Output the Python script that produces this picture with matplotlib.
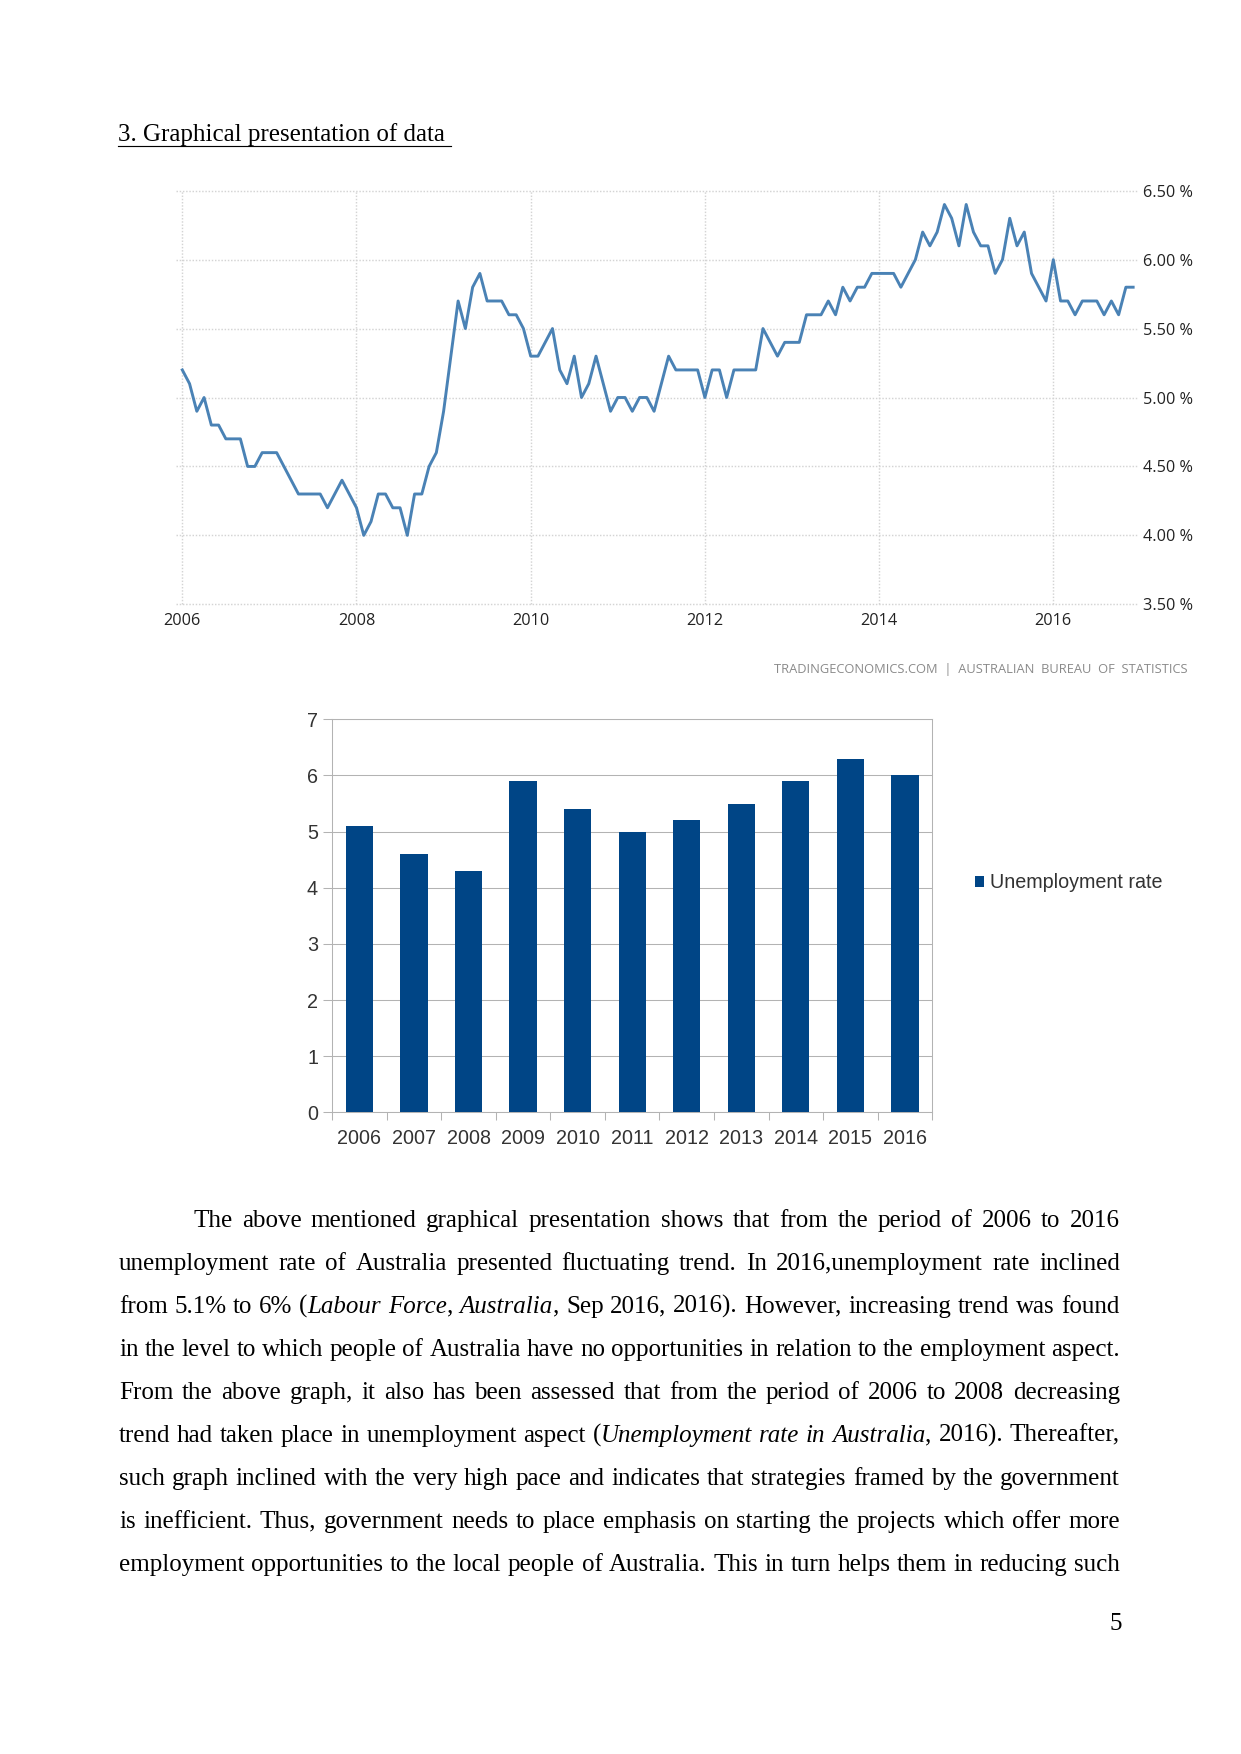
import numpy as np
import matplotlib
matplotlib.use("Agg")
import matplotlib.pyplot as plt

W, H = 1241, 1754
DPI = 150

# monthly unemployment rate (%), Jan 2006 onwards
monthly_rate = [
    5.2, 5.1, 4.9, 5.0, 4.8, 4.8, 4.7, 4.7, 4.7, 4.5, 4.5, 4.6,  # 2006
    4.6, 4.6, 4.5, 4.4, 4.3, 4.3, 4.3, 4.3, 4.2, 4.3, 4.4, 4.3,  # 2007
    4.2, 4.0, 4.1, 4.3, 4.3, 4.2, 4.2, 4.0, 4.3, 4.3, 4.5, 4.6,  # 2008
    4.9, 5.3, 5.7, 5.5, 5.8, 5.9, 5.7, 5.7, 5.7, 5.6, 5.6, 5.5,  # 2009
    5.3, 5.3, 5.4, 5.5, 5.2, 5.1, 5.3, 5.0, 5.1, 5.3, 5.1, 4.9,  # 2010
    5.0, 5.0, 4.9, 5.0, 5.0, 4.9, 5.1, 5.3, 5.2, 5.2, 5.2, 5.2,  # 2011
    5.0, 5.2, 5.2, 5.0, 5.2, 5.2, 5.2, 5.2, 5.5, 5.4, 5.3, 5.4,  # 2012
    5.4, 5.4, 5.6, 5.6, 5.6, 5.7, 5.6, 5.8, 5.7, 5.8, 5.8, 5.9,  # 2013
    5.9, 5.9, 5.9, 5.8, 5.9, 6.0, 6.2, 6.1, 6.2, 6.4, 6.3, 6.1,  # 2014
    6.4, 6.2, 6.1, 6.1, 5.9, 6.0, 6.3, 6.1, 6.2, 5.9, 5.8, 5.7,  # 2015
    6.0, 5.7, 5.7, 5.6, 5.7, 5.7, 5.7, 5.6, 5.7, 5.6, 5.8, 5.8,  # 2016
]
start_year = 2006
line_xticks = [2006, 2008, 2010, 2012, 2014, 2016]
line_yticks = [3.5, 4.0, 4.5, 5.0, 5.5, 6.0, 6.5]
source_text = "TRADINGECONOMICS.COM  |  AUSTRALIAN  BUREAU  OF  STATISTICS"

bar_years = ["2006", "2007", "2008", "2009", "2010", "2011",
             "2012", "2013", "2014", "2015", "2016"]
bar_rates = [5.1, 4.6, 4.3, 5.9, 5.4, 5.0, 5.2, 5.5, 5.9, 6.3, 6.0]
bar_label = "Unemployment rate"

heading = "3. Graphical presentation of data"
page_number = "5"
# *...* marks italic runs
paragraph = [
    "The above mentioned graphical presentation shows that from the period of 2006 to 2016",
    "unemployment rate of Australia presented fluctuating trend. In 2016,unemployment rate inclined",
    "from 5.1% to 6% (*Labour Force*, *Australia*, Sep 2016, 2016). However, increasing trend was found",
    "in the level to which people of Australia have no opportunities in relation to the employment aspect.",
    "From the above graph, it also has been assessed that from the period of 2006 to 2008 decreasing",
    "trend had taken place in unemployment aspect (*Unemployment rate in Australia*, 2016). Thereafter,",
    "such graph inclined with the very high pace and indicates that strategies framed by the government",
    "is inefficient. Thus, government needs to place emphasis on starting the projects which offer more",
    "employment opportunities to the local people of Australia. This in turn helps them in reducing such",
]


def px_axes(fig, left, top, right, bottom):
    return fig.add_axes([left / W, 1 - bottom / H, (right - left) / W, (bottom - top) / H])


def draw_justified(ax, renderer, line, x0, x1, y, size=12):
    words = []
    italic = False
    for w in line.split(" "):
        segs = []
        for i, part in enumerate(w.split("*")):
            if i > 0:
                italic = not italic
            if part:
                t = ax.text(0, y, part, fontsize=size, family="Liberation Serif",
                            style="italic" if italic else "normal", va="baseline")
                segs.append((t, t.get_window_extent(renderer).width))
        words.append(segs)
    total = sum(wd for segs in words for _, wd in segs)
    gap = (x1 - x0 - total) / (len(words) - 1)
    x = x0
    for segs in words:
        for t, wd in segs:
            t.set_x(x)
            x += wd
        x += gap


fig = plt.figure(figsize=(W / DPI, H / DPI), dpi=DPI)
fig.patch.set_facecolor("white")

# --- line chart (tradingeconomics style) ---
ax1 = px_axes(fig, 176, 190.7, 1137, 604.3)
dates = start_year + np.arange(len(monthly_rate)) / 12
ax1.plot(dates, monthly_rate, color="#4a82b5", lw=1.4, zorder=3)
ax1.set_xlim(2006 - 6.3 / 87.1, 2016 + 83.7 / 87.1)
ax1.set_ylim(3.5, 6.5)
ax1.set_xticks(line_xticks)
ax1.set_xticklabels([str(y) for y in line_xticks])
ax1.set_yticks(line_yticks)
ax1.set_yticklabels(["%.2f %%" % v for v in line_yticks])
ax1.yaxis.tick_right()
ax1.grid(True, color="#d4d4d4", linestyle=(0, (1, 1.2)), linewidth=0.7)
for gl in ax1.get_xgridlines() + ax1.get_ygridlines():
    gl.set_clip_on(False)
for sp in ax1.spines.values():
    sp.set_visible(False)
ax1.tick_params(axis="both", length=0, labelsize=7.8, labelcolor="#222222")
ax1.tick_params(axis="y", pad=2.9)
ax1.tick_params(axis="x", pad=4.3)
for lab in ax1.get_xticklabels() + ax1.get_yticklabels():
    lab.set_family("Open Sans")
fig.text(1188 / W, 1 - 670 / H, source_text, ha="right", va="center",
         fontsize=6.2, color="#8a8a8a", family="Open Sans")

# --- bar chart (LibreOffice style) ---
ax2 = px_axes(fig, 332.2, 719.3, 932.2, 1112.3)
bars = ax2.bar(range(len(bar_rates)), bar_rates, width=0.5, color="#004586", zorder=3)
ax2.set_xlim(-0.5, len(bar_rates) - 0.5)
ax2.set_ylim(0, 7)
ax2.set_yticks(range(0, 8))
ax2.set_xticks(range(len(bar_years)))
ax2.set_xticklabels(bar_years)
ax2.set_xticks(np.arange(-0.5, len(bar_years), 1), minor=True)
ax2.grid(True, axis="y", color="#b3b3b3", linewidth=0.5, zorder=0)
for sp in ax2.spines.values():
    sp.set_color("#b3b3b3")
    sp.set_linewidth(0.5)
ax2.tick_params(axis="y", length=4.3, width=0.5, color="#b3b3b3", pad=2.5,
                labelsize=9.5, labelcolor="#333333")
ax2.tick_params(axis="x", which="major", length=0, pad=8, labelsize=9.5, labelcolor="#333333")
ax2.tick_params(axis="x", which="minor", length=4, width=0.5, color="#b3b3b3")
for lab in ax2.get_xticklabels() + ax2.get_yticklabels():
    lab.set_family("Liberation Sans")
leg = ax2.legend([bars], [bar_label], loc="center left",
                 bbox_to_anchor=(975 / W, 1 - 883 / H), bbox_transform=fig.transFigure,
                 frameon=False, borderpad=0, borderaxespad=0,
                 handlelength=0.45, handleheight=0.45, handletextpad=0.32,
                 prop={"family": "Liberation Sans", "size": 9.5})
for t in leg.get_texts():
    t.set_color("#333333")

# --- page text ---
page = fig.add_axes([0, 0, 1, 1])
page.set_xlim(0, W)
page.set_ylim(H, 0)
page.axis("off")
renderer = fig.canvas.get_renderer()

ht = page.text(118.3, 141, heading, fontsize=12, family="Liberation Serif", va="baseline")
sp_t = page.text(0, 0, "a a", fontsize=12, family="Liberation Serif")
aa = page.text(0, 0, "aa", fontsize=12, family="Liberation Serif")
space_w = sp_t.get_window_extent(renderer).width - aa.get_window_extent(renderer).width
sp_t.remove()
aa.remove()
hw = ht.get_window_extent(renderer).width
page.plot([118.3, 118.3 + hw + space_w], [145.7, 145.7], color="black", lw=0.55)

for i, line in enumerate(paragraph):
    x0 = 193 if i == 0 else 119
    draw_justified(page, renderer, line, x0, 1120, 1226.7 + 43 * i)

page.text(1121.7, 1630, page_number, fontsize=12, family="Liberation Serif",
          ha="right", va="baseline")

fig.savefig("out.png", dpi=DPI)
